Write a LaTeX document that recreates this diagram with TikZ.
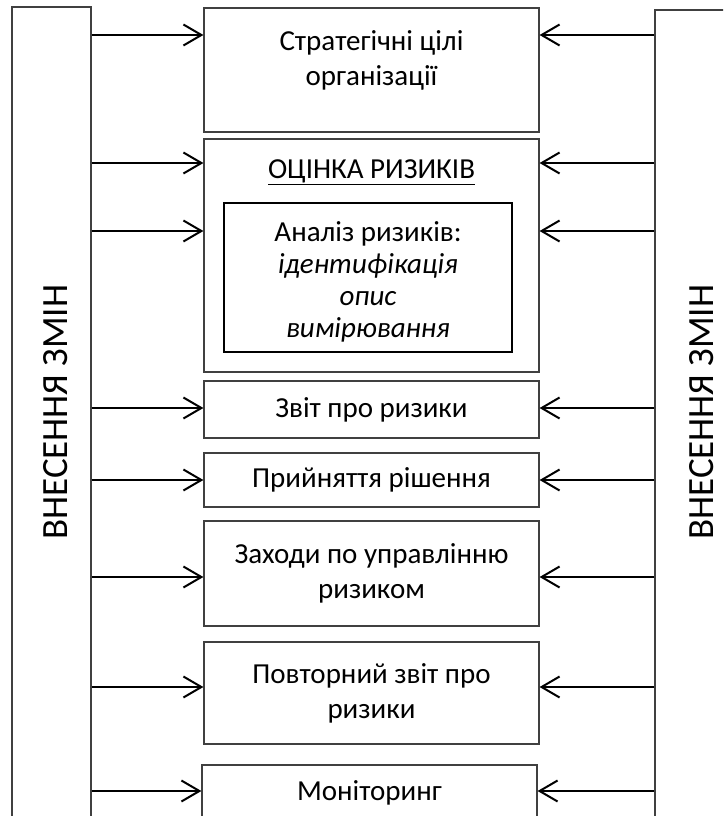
\documentclass[tikz,border=0pt]{standalone}
\usepackage{fontspec}
\setmainfont{Carlito}
\usetikzlibrary{arrows.meta,positioning}
\newcommand{\boxfont}{\fontsize{29}{35}\selectfont}
\newcommand{\barfont}{\fontsize{37}{40}\selectfont}
\begin{document}
\begin{tikzpicture}[x=1pt,y=-1pt,>={Straight Barb[length=18pt,width=21pt]},
	box/.style={draw=black!75,line width=1.2pt,minimum width=335pt,inner sep=0pt,align=center,font=\boxfont},
	txt/.style={inner sep=0pt,align=center,font=\boxfont},
	bar/.style={draw=black!75,line width=1.2pt,minimum width=79pt,minimum height=830pt,inner sep=0pt},
	vtxt/.style={rotate=90,inner sep=0pt,font=\barfont},
	arr/.style={->,line width=2pt}]
	\useasboundingbox (0,0) rectangle (723,816);
	\clip (0,0) rectangle (723,816);
	\node[bar] (lbar) at (51.5,422) {};
	\node[bar,minimum width=90pt] (rbar) at (700,425) {};
	\node[vtxt] (ltxt) at (56,412) {ВНЕСЕННЯ ЗМІН};
	\node[vtxt] (rtxt) at (702,412) {ВНЕСЕННЯ ЗМІН};
	\node[box,minimum height=124pt] (s1) at (371.5,70) {};
	\node[txt,anchor=north] (t1) at ([yshift=-23pt]s1.north) {Стратегічні цілі\\організації};
	\node[box,minimum height=233pt] (s2) at (371.5,255.5) {};
	\node[txt,anchor=north] (t2) at ([yshift=-21pt]s2.north) {\underline{ОЦІНКА РИЗИКІВ}};
	\node[box,draw=black,line width=1.8pt,minimum width=288pt,minimum height=149pt] (a1) at (368,277.5) {};
	\node[txt,font=\fontsize{29}{32}\selectfont] (ta1) at ([yshift=-4pt]a1.center) {Аналіз ризиків:\\\textit{ідентифікація}\\\textit{опис}\\\textit{вимірювання}};
	\node[box,minimum height=57pt] (s3) at (371.5,409.5) {Звіт про ризики};
	\node[box,minimum height=54pt] (s4) at (371.5,480) {Прийняття рішення};
	\node[box,minimum height=105pt] (s5) at (371.5,573.5) {Заходи по управлінню\\ризиком};
	\node[box,minimum height=102pt] (s6) at (371.5,693) {Повторний звіт про\\ризики};
	\node[box,minimum height=56pt] (s7) at (369.5,793) {Моніторинг};
	\foreach \y/\b in {35/s1,163/s2,231/s2,408/s3,480/s4,577/s5,687/s6,791/s7}{
		\coordinate (p) at (0,\y);
		\draw[arr] (lbar.east|-p) -- (\b.west|-p);
		\draw[arr] (rbar.west|-p) -- (\b.east|-p);
	}
\end{tikzpicture}
\end{document}
